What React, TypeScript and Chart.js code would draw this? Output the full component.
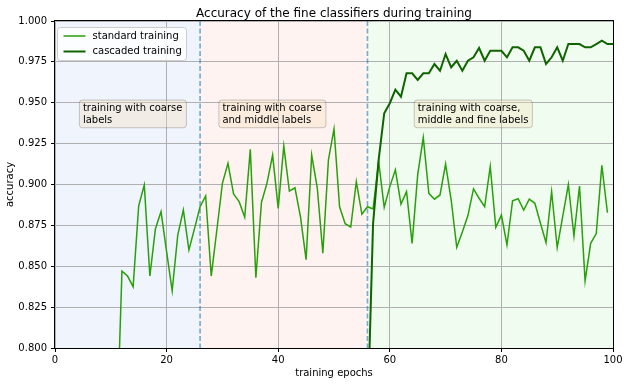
import React, { useEffect, useRef } from 'react';
import { Chart, registerables } from 'chart.js';

Chart.register(...registerables);

const titleText = 'Accuracy of the fine classifiers during training';
const xAxisLabel = 'training epochs';
const yAxisLabel = 'accuracy';
const seriesNames = ['standard training', 'cascaded training'];

const standardStartEpoch = 11;
const standardAcc = [
  0.74, 0.847, 0.844, 0.8375, 0.887, 0.8997, 0.844, 0.873, 0.8834, 0.859,
  0.835, 0.869, 0.8844, 0.86, 0.873, 0.8864, 0.893, 0.844, 0.872, 0.9007,
  0.913, 0.8942, 0.8895, 0.88, 0.9215, 0.843, 0.889, 0.901, 0.918, 0.8854,
  0.9235, 0.896, 0.898, 0.88, 0.854, 0.918, 0.898, 0.858, 0.915, 0.934,
  0.8864, 0.876, 0.874, 0.9017, 0.8818, 0.8864, 0.885, 0.914, 0.886, 0.8987,
  0.909, 0.888, 0.8956, 0.864, 0.906, 0.9287, 0.8946, 0.891, 0.8936, 0.9125,
  0.8905, 0.8616, 0.871, 0.881, 0.8973, 0.8916, 0.8864, 0.911, 0.8738, 0.8813,
  0.863, 0.89, 0.8913, 0.8844, 0.891, 0.8885, 0.8763, 0.8644, 0.8956, 0.8614,
  0.8807, 0.9, 0.8685, 0.899, 0.841, 0.864, 0.87, 0.9117, 0.8828,
];

const cascadedStartEpoch = 56;
const cascadedAcc = [
  0.755, 0.876, 0.915, 0.9436, 0.9497, 0.958, 0.9537, 0.968, 0.968, 0.964,
  0.968, 0.968, 0.9737, 0.9696, 0.9798, 0.9717, 0.9757, 0.9696, 0.9757, 0.9778,
  0.9835, 0.9757, 0.9818, 0.9818, 0.9818, 0.9778, 0.9839, 0.9839, 0.9818, 0.9757,
  0.9839, 0.9839, 0.9737, 0.9778, 0.9839, 0.9757, 0.9859, 0.9859, 0.9859, 0.9839,
  0.9839, 0.9859, 0.988, 0.9859, 0.9859,
];

const phaseBounds = [0, 26, 56, 100];
const phaseColors = ['rgb(240,244,253)', 'rgb(254,243,240)', 'rgb(240,252,240)'];
const phaseLabels = [
  ['training with coarse', 'labels'],
  ['training with coarse', 'and middle labels'],
  ['training with coarse,', 'middle and fine labels'],
];
const phaseLabelEpochs = [5, 30, 65];
const phaseLabelAcc = 0.95;
const phaseDividers = [26, 56];

const xMin = 0;
const xMax = 100;
const xStep = 20;
const yMin = 0.8;
const yMax = 1.0;
const yStep = 0.025;

const standardColor = 'rgb(40,160,10)';
const cascadedColor = 'rgb(16,100,0)';
const FONT = 'DejaVu Sans';

function roundRect(ctx: CanvasRenderingContext2D, x: number, y: number, w: number, h: number, r: number) {
  ctx.beginPath();
  ctx.moveTo(x + r, y);
  ctx.lineTo(x + w - r, y);
  ctx.arcTo(x + w, y, x + w, y + r, r);
  ctx.lineTo(x + w, y + h - r);
  ctx.arcTo(x + w, y + h, x + w - r, y + h, r);
  ctx.lineTo(x + r, y + h);
  ctx.arcTo(x, y + h, x, y + h - r, r);
  ctx.lineTo(x, y + r);
  ctx.arcTo(x, y, x + r, y, r);
  ctx.closePath();
}

const decorPlugin = {
  id: 'decor',
  beforeDraw(chart: any) {
    const { ctx, chartArea, scales } = chart;
    const xs = scales.x;
    ctx.save();
    ctx.fillStyle = '#ffffff';
    ctx.fillRect(0, 0, chart.width, chart.height);
    for (let i = 0; i < phaseColors.length; i++) {
      const x1 = xs.getPixelForValue(phaseBounds[i]);
      const x2 = xs.getPixelForValue(phaseBounds[i + 1]);
      ctx.fillStyle = phaseColors[i];
      ctx.fillRect(x1, chartArea.top, x2 - x1, chartArea.bottom - chartArea.top);
    }
    ctx.restore();
  },
  beforeDatasetsDraw(chart: any) {
    const { ctx, chartArea, scales } = chart;
    const xs = scales.x;
    ctx.save();
    ctx.strokeStyle = 'rgba(31,119,180,0.6)';
    ctx.lineWidth = 1.6;
    ctx.setLineDash([5, 2.5]);
    for (const d of phaseDividers) {
      const x = xs.getPixelForValue(d);
      ctx.beginPath();
      ctx.moveTo(x, chartArea.top);
      ctx.lineTo(x, chartArea.bottom);
      ctx.stroke();
    }
    ctx.restore();
  },
  afterDraw(chart: any) {
    const { ctx, chartArea, scales } = chart;
    const xs = scales.x;
    const ys = scales.y;
    ctx.save();
    // frame
    ctx.strokeStyle = '#000000';
    ctx.lineWidth = 1;
    ctx.strokeRect(
      Math.round(chartArea.left) - 0.5,
      Math.round(chartArea.top) - 0.5,
      Math.round(chartArea.right) - Math.round(chartArea.left) + 1,
      Math.round(chartArea.bottom) - Math.round(chartArea.top) + 1
    );
    // title
    ctx.fillStyle = '#000000';
    ctx.font = `12px "${FONT}"`;
    ctx.textAlign = 'center';
    ctx.textBaseline = 'middle';
    ctx.fillText(titleText, (chartArea.left + chartArea.right) / 2, 13.5);

    // phase annotation boxes
    ctx.font = `10px "${FONT}"`;
    ctx.textAlign = 'left';
    ctx.textBaseline = 'alphabetic';
    for (let i = 0; i < phaseLabels.length; i++) {
      const lines = phaseLabels[i];
      const tx = xs.getPixelForValue(phaseLabelEpochs[i]);
      const b1 = ys.getPixelForValue(phaseLabelAcc) + 8.3;
      const b2 = b1 + 11.7;
      let w = 0;
      for (const l of lines) w = Math.max(w, ctx.measureText(l).width);
      roundRect(ctx, tx - 3.5, b1 - 11, w + 7.5, 27.7, 3);
      ctx.fillStyle = 'rgba(245,222,179,0.3)';
      ctx.fill();
      ctx.strokeStyle = 'rgba(0,0,0,0.2)';
      ctx.lineWidth = 1;
      ctx.stroke();
      ctx.fillStyle = '#000000';
      ctx.fillText(lines[0], tx, b1);
      ctx.fillText(lines[1], tx, b2);
    }

    // legend
    const lx = chartArea.left + 2.5;
    const ly = chartArea.top + 6.5;
    roundRect(ctx, lx, ly, 129, 33, 3);
    ctx.fillStyle = 'rgba(255,255,255,0.8)';
    ctx.fill();
    ctx.strokeStyle = '#cccccc';
    ctx.lineWidth = 1;
    ctx.stroke();
    const legendColors = [standardColor, cascadedColor];
    const legendWidths = [1.5, 2];
    ctx.textBaseline = 'middle';
    for (let i = 0; i < seriesNames.length; i++) {
      const yy = ly + 8.5 + i * 15.5;
      ctx.strokeStyle = legendColors[i];
      ctx.lineWidth = legendWidths[i];
      ctx.beginPath();
      ctx.moveTo(lx + 6, yy);
      ctx.lineTo(lx + 28, yy);
      ctx.stroke();
      ctx.fillStyle = '#000000';
      ctx.fillText(seriesNames[i], lx + 35, yy);
    }
    ctx.restore();
  },
};

export default function App() {
  const canvasRef = useRef<HTMLCanvasElement | null>(null);

  useEffect(() => {
    document.body.style.margin = '0';
    const canvas = canvasRef.current;
    if (!canvas) return;
    Chart.defaults.font.family = FONT;
    Chart.defaults.color = '#000000';

    const standardData = standardAcc.map((v, i) => ({ x: standardStartEpoch + i, y: v }));
    const cascadedData = cascadedAcc.map((v, i) => ({ x: cascadedStartEpoch + i, y: v }));

    const chart = new Chart(canvas, {
      type: 'line',
      data: {
        datasets: [
          {
            label: seriesNames[0],
            data: standardData,
            borderColor: standardColor,
            borderWidth: 1.5,
            pointRadius: 0,
            tension: 0,
            fill: false,
            order: 1,
          },
          {
            label: seriesNames[1],
            data: cascadedData,
            borderColor: cascadedColor,
            borderWidth: 2,
            pointRadius: 0,
            tension: 0,
            fill: false,
            order: 0,
          },
        ],
      },
      options: {
        animation: false,
        responsive: false,
        devicePixelRatio: 1,
        layout: { padding: { top: 21, right: 14, left: 0, bottom: 0 } },
        plugins: {
          legend: { display: false },
          title: { display: false },
          tooltip: { enabled: false },
        },
        scales: {
          x: {
            type: 'linear',
            min: xMin,
            max: xMax,
            ticks: {
              stepSize: xStep,
              color: '#000000',
              font: { size: 10, family: FONT },
              padding: 2,
              maxRotation: 0,
            },
            grid: {
              color: '#b0b0b0',
              lineWidth: 1,
              tickColor: '#000000',
              tickLength: 4,
              drawTicks: true,
            },
            border: { display: false },
            title: {
              display: true,
              text: xAxisLabel,
              color: '#000000',
              font: { size: 10, family: FONT },
              padding: { top: 2, bottom: 6 },
            },
            afterFit(scale: any) {
              scale.height = 37;
            },
          },
          y: {
            type: 'linear',
            min: yMin,
            max: yMax,
            ticks: {
              stepSize: yStep,
              color: '#000000',
              font: { size: 10, family: FONT },
              padding: 4,
              callback: (v: any) => Number(v).toFixed(3),
            },
            grid: {
              color: '#b0b0b0',
              lineWidth: 1,
              tickColor: '#000000',
              tickLength: 4,
              drawTicks: true,
            },
            border: { display: false },
            title: {
              display: true,
              text: yAxisLabel,
              color: '#000000',
              font: { size: 10, family: FONT },
              padding: { top: 4, bottom: 4 },
            },
            afterFit(scale: any) {
              scale.width = 55;
            },
          },
        },
      },
      plugins: [decorPlugin],
    });

    return () => {
      chart.destroy();
    };
  }, []);

  return (
    <div style={{ width: 627, height: 385 }}>
      <canvas ref={canvasRef} width={627} height={385} style={{ display: 'block' }} />
    </div>
  );
}
